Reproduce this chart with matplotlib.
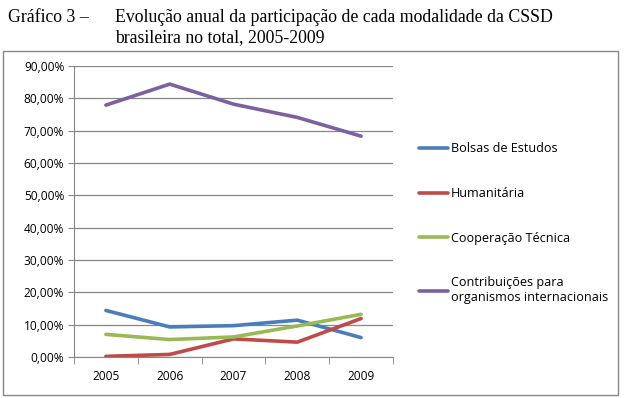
import matplotlib
matplotlib.use("Agg")
from matplotlib import pyplot as plt
from matplotlib.patches import Rectangle
from matplotlib.ticker import FuncFormatter, FixedLocator

anos = ["2005", "2006", "2007", "2008", "2009"]
bolsas = [14.4, 9.3, 9.7, 11.4, 6.0]
humanitaria = [0.2, 0.8, 5.6, 4.6, 11.9]
cooperacao = [7.0, 5.4, 6.2, 9.6, 13.2]
contribuicoes = [77.9, 84.4, 78.2, 74.1, 68.3]

series = [
    ("Bolsas de Estudos", bolsas, "#4A7EBB"),
    ("Humanitária", humanitaria, "#BE4B48"),
    ("Cooperação Técnica", cooperacao, "#98B954"),
    ("Contribuições para\norganismos internacionais", contribuicoes, "#7D60A0"),
]

W, H = 624, 398
fig = plt.figure(figsize=(W / 100, H / 100), dpi=100)

# titulo
fig.text(8 / W, 1 - 18 / H, "Gráfico 3 –", family="Liberation Serif", fontsize=12.8, va="center")
fig.text(115 / W, 1 - 18 / H, "Evolução anual da participação de cada modalidade da CSSD",
         family="Liberation Serif", fontsize=12.8, va="center")
fig.text(115 / W, 1 - 38 / H, "brasileira no total, 2005-2009",
         family="Liberation Serif", fontsize=12.8, va="center")

# moldura do grafico
fig.patches.append(Rectangle((3 / W, 3 / H), 615 / W, 344 / H, transform=fig.transFigure,
                             fill=False, edgecolor="#878787", linewidth=1))

ax = fig.add_axes([74 / W, (H - 357) / H, (393 - 74) / W, (357 - 66) / H])
x = list(range(len(anos)))
for nome, vals, cor in series:
    ax.plot(x, vals, color=cor, linewidth=2.6, label=nome, solid_capstyle="round")

ax.set_ylim(0, 90)
ax.set_yticks(range(0, 91, 10))
ax.yaxis.set_major_formatter(FuncFormatter(lambda v, p: f"{v:.2f}%".replace(".", ",")))
ax.grid(axis="y", color="#878787", linewidth=0.9)
ax.set_axisbelow(True)

ax.set_xlim(-0.5, 4.5)
ax.set_xticks(x)
ax.set_xticklabels(anos)
ax.xaxis.set_minor_locator(FixedLocator([i - 0.5 for i in range(6)]))
ax.tick_params(axis="x", which="major", length=0, pad=9)
ax.tick_params(axis="x", which="minor", length=5, color="#878787")
ax.tick_params(axis="y", length=4, color="#878787", pad=3)
for lab in ax.get_xticklabels() + ax.get_yticklabels():
    lab.set_family("Open Sans")
    lab.set_fontsize(8.6)

for lado in ["top", "right"]:
    ax.spines[lado].set_visible(False)
for lado in ["left", "bottom"]:
    ax.spines[lado].set_color("#878787")

leg = fig.legend(loc="upper left", bbox_to_anchor=(408 / W, 1 - 131 / H), frameon=False,
                 prop={"family": "Open Sans", "size": 9.1}, labelspacing=2.5,
                 handlelength=2.3, handletextpad=0.2)

fig.savefig("out.png", dpi=100)
